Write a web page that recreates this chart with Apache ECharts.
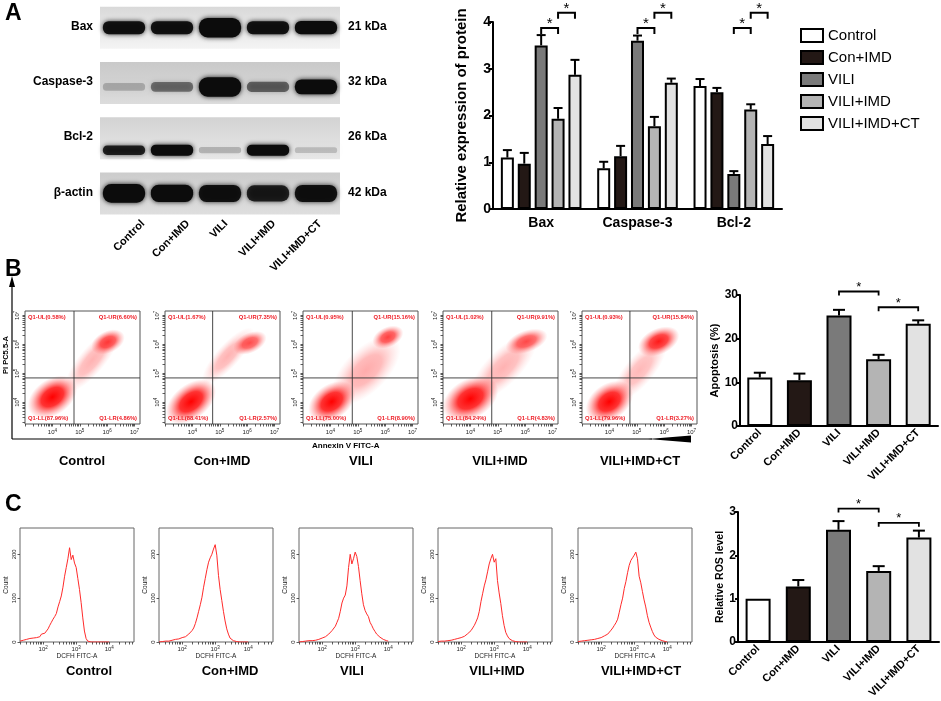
<!DOCTYPE html>
<html><head><meta charset="utf-8">
<script src="https://cdn.jsdelivr.net/npm/echarts@6/dist/echarts.min.js"></script>
<style>html,body{margin:0;padding:0;background:#fff}#c{width:941px;height:701px}</style>
</head><body><div id="c"></div>
<script>
// ---------------- DATA ----------------
const groups = ['Control','Con+IMD','VILI','VILI+IMD','VILI+IMD+CT'];
const proteins = ['Bax','Caspase-3','Bcl-2'];
const blotRows = ['Bax','Caspase-3','Bcl-2','β-actin'];
const blotKDa = ['21 kDa','32 kDa','26 kDa','42 kDa'];
// relative band density per lane (Control..VILI+IMD+CT)
const bandBax   = [1.0, 1.0, 2.0, 1.0, 1.05];
const bandCasp  = [0.22, 0.5, 2.0, 0.55, 1.3];
const bandBcl   = [0.9, 1.2, 0.22, 1.2, 0.18];
const bandActin = [1.2, 1.05, 1.0, 0.9, 1.0];

// Relative expression of protein (Bax, Caspase-3, Bcl-2)
const relControl = [1.10, 0.87, 2.63], errControl = [0.16, 0.14, 0.15];
const relConIMD  = [0.97, 1.13, 2.50], errConIMD  = [0.23, 0.22, 0.09];
const relVILI    = [3.50, 3.60, 0.75], errVILI    = [0.22, 0.11, 0.06];
const relVILIIMD = [1.93, 1.77, 2.13], errVILIIMD = [0.23, 0.20, 0.11];
const relCT      = [2.87, 2.70, 1.39], errCT      = [0.32, 0.09, 0.17];
// brackets: [catFrom, groupFrom, catTo, groupTo, level]
const sigA = [[0,2,0,3,3.87],[0,3,0,4,4.2],[1,2,1,3,3.87],[1,3,1,4,4.2],[2,2,2,3,3.87],[2,3,2,4,4.2]];

// Apoptosis (%)
const apopMean = [11.1, 10.5, 25.3, 15.3, 23.4];
const apopErr  = [1.1, 1.5, 1.3, 1.0, 0.8];
const sigB = [[2,0,3,0,30.8],[3,0,4,0,27.2]];

// Relative ROS level
const rosMean = [1.0, 1.28, 2.59, 1.64, 2.41];
const rosErr  = [0, 0.15, 0.20, 0.11, 0.16];
const sigC = [[2,0,3,0,3.08],[3,0,4,0,2.75]];

// Flow cytometry quadrant percentages
const flowUL = [0.58, 1.67, 0.95, 1.02, 0.93];
const flowUR = [6.60, 7.35, 15.16, 9.91, 15.84];
const flowLL = [87.96, 88.41, 75.00, 84.24, 79.96];
const flowLR = [4.86, 2.57, 8.90, 4.83, 3.27];
const gateX = [4.79, 4.74, 4.80, 4.78, 4.75];   // log10 Annexin V gate
const gateY = [4.84, 4.84, 4.84, 4.84, 4.84];   // log10 PI gate
// event clouds: [log x, log y, spread x, spread y, angle, density]
const cloudsControl = [[4.0,4.18,1.0,0.62,35,1.0],[5.45,5.45,1.45,0.45,50,0.30],[6.03,6.08,0.65,0.38,25,0.75]];
const cloudsConIMD  = [[3.95,4.02,1.05,0.6,38,1.0],[5.3,5.6,1.35,0.4,48,0.30],[6.1,6.05,0.65,0.35,25,0.70]];
const cloudsVILI    = [[4.05,4.02,0.95,0.6,35,1.0],[5.3,5.1,1.6,0.75,45,0.33],[6.1,6.25,0.6,0.35,25,0.75]];
const cloudsVILIIMD = [[4.0,4.12,1.1,0.68,30,1.0],[5.2,5.2,1.6,0.6,45,0.30],[6.05,6.1,0.8,0.38,20,0.70]];
const cloudsCT      = [[4.0,4.02,0.95,0.62,35,1.0],[5.1,5.1,1.4,0.5,50,0.28],[5.8,6.1,0.8,0.45,25,0.90]];

// DCFH histograms: log10 fluorescence bins and counts
const histX = [1.30,1.35,1.40,1.45,1.50,1.55,1.60,1.65,1.70,1.75,1.80,1.85,1.90,1.95,2.00,2.05,2.10,2.15,2.20,2.25,2.30,2.35,2.40,2.45,2.50,2.55,2.60,2.65,2.70,2.75,2.80,2.85,2.90,2.95,3.00,3.05,3.10,3.15,3.20,3.25,3.30,3.35,3.40,3.45,3.50,3.55,3.60,3.65,3.70,3.75,3.80,3.85,3.90,3.95,4.00];
const histControl = [2,3,4,5,6,5,8,7,9,8, 10,9,12,18,15,20,24,30,38,45, 52,58,65,80,92,105,125,150,170,190, 215,188,198,180,170,145,120,90,55,25, 8,2,0,0,0,0,0,0,0,0, 0,0,0,0,0];
const histConIMD  = [0,1,1,2,2,3,2,4,4,5, 6,8,7,9,10,10,12,15,18,22, 26,32,42,55,70,85,102,125,145,165, 182,192,200,212,222,198,152,120,95,70, 48,30,18,9,5,3,2,1,0,0, 0,0,0,0,0];
const histVILI    = [0,1,1,1,2,2,3,3,3,4, 4,5,6,7,9,10,12,15,18,22, 26,30,36,45,54,70,89,100,107,128, 170,200,178,190,205,195,172,140,110,85, 72,64,58,45,38,30,24,18,14,11, 9,6,4,3,2];
const histVILIIMD = [1,1,2,2,2,3,3,4,4,5, 6,7,8,9,10,11,13,16,19,22, 26,32,38,46,55,70,92,110,128,142, 160,178,190,200,182,190,140,112,88,60, 38,22,14,8,5,3,2,1,0,0, 0,0,0,0,0];
const histCT      = [1,1,2,2,3,3,4,4,5,6, 6,7,8,9,10,12,14,16,18,22, 27,32,38,44,52,68,85,100,122,138, 158,175,186,192,198,205,190,150,135,115, 96,80,60,45,34,24,16,11,8,6, 4,3,2,1,0];

// ---------------- STYLE ----------------
const FF = '"Liberation Sans", Arial, Helvetica, sans-serif';
const groupColors = ['#ffffff','#231815','#7a7a7a','#b4b4b4','#e2e2e2'];
const rowBgTop = ['#d9d9d9','#c9c9c9','#d3d3d3','#cccccc'];
const rowBgBot = ['#f4f4f4','#dcdcdc','#e8e8e8','#dedede'];
const bandBase = [13, 13, 10, 17];
const bandOffset = [0, 4, 12, 0];

const relMeans = [relControl, relConIMD, relVILI, relVILIIMD, relCT];
const relErrs = [errControl, errConIMD, errVILI, errVILIIMD, errCT];
const blotBands = [bandBax, bandCasp, bandBcl, bandActin];
const flowClouds = [cloudsControl, cloudsConIMD, cloudsVILI, cloudsVILIIMD, cloudsCT];
const histCounts = [histControl, histConIMD, histVILI, histVILIIMD, histCT];

const grids = [], xAxes = [], yAxes = [], series = [], graphics = [];
function G(left, top, width, height, extra) {
  grids.push(Object.assign({left, top, width, height, outerBoundsMode: 'none', containLabel: false}, extra || {}));
  return grids.length - 1;
}
function logTicks(lo, hi) {
  const t = [];
  for (let d = Math.floor(lo); d <= Math.ceil(hi); d++) {
    for (let k = 1; k < 10; k++) {
      const v = d + Math.log10(k);
      if (v >= lo - 1e-9 && v <= hi + 1e-9) t.push(+v.toFixed(4));
    }
  }
  return t;
}
const supRich = {b: {fontSize: 6, fontFamily: FF, color: '#222', lineHeight: 8}, s: {fontSize: 4.5, fontFamily: FF, color: '#222', verticalAlign: 'top', lineHeight: 4}};
const supFmt = v => '{b|10}{s|' + Math.round(v) + '}';

function errRender(step, n, capHalf, lw) {
  return function (params, api) {
    const cat = api.value(0), gi = api.value(1), m = api.value(2), e = api.value(3);
    if (!e) return null;
    const b = api.coord([cat, m]), t = api.coord([cat, m + e]);
    const x = b[0] + (gi - (n - 1) / 2) * step;
    return {type: 'group', children: [
      {type: 'line', shape: {x1: x, y1: b[1], x2: x, y2: t[1]}, style: {stroke: '#000', lineWidth: lw}},
      {type: 'line', shape: {x1: x - capHalf, y1: t[1], x2: x + capHalf, y2: t[1]}, style: {stroke: '#000', lineWidth: lw}}
    ]};
  };
}
function sigRender(step, n, drop, lw, fs) {
  return function (params, api) {
    const c1 = api.value(0), g1 = api.value(1), c2 = api.value(2), g2 = api.value(3), lv = api.value(4);
    const p1 = api.coord([c1, lv]), p2 = api.coord([c2, lv]);
    const x1 = p1[0] + (g1 - (n - 1) / 2) * step, x2 = p2[0] + (g2 - (n - 1) / 2) * step, y = p1[1];
    return {type: 'group', children: [
      {type: 'polyline', shape: {points: [[x1, y + drop], [x1, y], [x2, y], [x2, y + drop]]}, style: {stroke: '#000', lineWidth: lw, fill: null}},
      {type: 'text', x: (x1 + x2) / 2, y: y - 4, style: {text: '*', fontSize: fs, fontFamily: FF, fill: '#000', align: 'center', verticalAlign: 'middle'}}
    ]};
  };
}
function boldAxisY(min, max, interval, name, nameGap, fs, nfs) {
  return {type: 'value', min, max, interval, name, nameLocation: 'middle', nameGap,
    nameTextStyle: {fontSize: nfs, fontWeight: 'bold', fontFamily: FF, color: '#000'},
    axisLine: {show: true, lineStyle: {color: '#000', width: 2}},
    axisTick: {show: true, length: 3, lineStyle: {color: '#000', width: 2}},
    axisLabel: {color: '#000', fontSize: fs, fontWeight: 'bold', fontFamily: FF, margin: 2},
    splitLine: {show: false}};
}

// ---------- Panel A : western blot ----------
const gBlot = G(100, 0, 240, 221);
xAxes.push({gridIndex: gBlot, type: 'value', min: -0.5, max: 4.5, show: false});
yAxes.push({gridIndex: gBlot, type: 'value', min: -0.5, max: 3.5, inverse: true, show: false});
series.push({type: 'custom', xAxisIndex: gBlot, yAxisIndex: gBlot, silent: true, clip: false,
  data: blotRows.map((n, i) => [0, i]),
  renderItem: (p, api) => {
    const r = api.value(1), a = api.coord([-0.5, r]), b = api.coord([4.5, r]), h = 42;
    return {type: 'rect', shape: {x: a[0], y: a[1] - h / 2, width: b[0] - a[0], height: h},
      style: {fill: {type: 'linear', x: 0, y: 0, x2: 0, y2: 1, colorStops: [{offset: 0, color: rowBgTop[r]}, {offset: 1, color: rowBgBot[r]}]}}};
  }});
series.push({type: 'custom', xAxisIndex: gBlot, yAxisIndex: gBlot, silent: true, clip: false,
  data: blotBands.flatMap((arr, r) => arr.map((I, l) => [l, r, I])),
  renderItem: (p, api) => {
    const l = api.value(0), r = api.value(1), I = api.value(2);
    const c = api.coord([l, r]), w = api.size([0.88, 0])[0];
    const h = bandBase[r] * (0.5 + 0.5 * I), a = Math.min(1, I * 0.95);
    return {type: 'rect', shape: {x: c[0] - w / 2, y: c[1] + bandOffset[r] - h / 2, width: w, height: h, r: h * 0.45},
      style: {fill: 'rgba(12,12,12,' + a + ')', shadowBlur: 5, shadowColor: 'rgba(0,0,0,' + (a * 0.9) + ')'}};
  }});
const rowCY = [27.6, 82.9, 138.1, 193.4];
blotRows.forEach((n, i) => {
  graphics.push({type: 'text', x: 93, y: rowCY[i] - 1, style: {text: n, fontSize: 12, fontWeight: 'bold', fontFamily: FF, fill: '#000', align: 'right', verticalAlign: 'middle'}});
  graphics.push({type: 'text', x: 348, y: rowCY[i] - 1, style: {text: blotKDa[i], fontSize: 12, fontWeight: 'bold', fontFamily: FF, fill: '#000', align: 'left', verticalAlign: 'middle'}});
});
const laneAnchor = [143, 188, 226, 274, 320];
groups.forEach((g, i) => {
  graphics.push({type: 'text', x: laneAnchor[i], y: 222, rotation: Math.PI / 4,
    style: {text: g, fontSize: 11, fontWeight: 'bold', fontFamily: FF, fill: '#000', align: 'right', verticalAlign: 'middle'}});
});

// ---------- Panel A : bar chart ----------
const gA = G(493, 22, 289, 187);
xAxes.push({gridIndex: gA, type: 'category', data: proteins,
  axisLine: {lineStyle: {color: '#000', width: 2}}, axisTick: {show: false},
  axisLabel: {color: '#000', fontSize: 14, fontWeight: 'bold', fontFamily: FF, margin: 7}});
const yA = boldAxisY(0, 4, 1, 'Relative expression of protein', 24, 14, 15);
yA.axisTick.length = 4;
yAxes.push(Object.assign({gridIndex: gA}, yA));
groups.forEach((g, i) => series.push({type: 'bar', name: g, xAxisIndex: gA, yAxisIndex: gA, data: relMeans[i],
  barWidth: 13, barGap: '30%', itemStyle: {color: groupColors[i], borderColor: '#000', borderWidth: 2}}));
const stepA = 13 * 1.3;
series.push({type: 'custom', xAxisIndex: gA, yAxisIndex: gA, clip: false, silent: true, z: 5, encode: {x: 0, y: 2},
  data: groups.flatMap((g, i) => proteins.map((p, j) => [j, i, relMeans[i][j], relErrs[i][j]])),
  renderItem: errRender(stepA, 5, 4.5, 2)});
series.push({type: 'custom', xAxisIndex: gA, yAxisIndex: gA, clip: false, silent: true, z: 5, encode: {x: 0, y: 4},
  data: sigA, renderItem: sigRender(stepA, 5, 6, 2, 15)});

// ---------- Panel B : flow cytometry ----------
const scLeft = [25, 165, 303, 443, 582];
const xTicksB = logTicks(3, 7.2), yTicksB = logTicks(3.25, 7.15);
scLeft.forEach((L, k) => {
  const g = G(L, 311, 115, 113, {show: true, borderColor: '#555', borderWidth: 1, backgroundColor: 'transparent'});
  xAxes.push({gridIndex: g, type: 'value', min: 3, max: 7.2, axisLine: {show: false}, splitLine: {show: false},
    axisTick: {show: true, length: 2.5, customValues: xTicksB, lineStyle: {color: '#333', width: 0.8}},
    axisLabel: {customValues: [4, 5, 6, 7], formatter: supFmt, rich: supRich, margin: 4}});
  yAxes.push({gridIndex: g, type: 'value', min: 3.25, max: 7.15, axisLine: {show: false}, splitLine: {show: false},
    axisTick: {show: true, length: 2.5, customValues: yTicksB, lineStyle: {color: '#333', width: 0.8}},
    axisLabel: {customValues: [4, 5, 6, 7], formatter: supFmt, rich: supRich, rotate: 90, margin: 4}});
  series.push({type: 'custom', xAxisIndex: g, yAxisIndex: g, clip: true, silent: true,
    data: flowClouds[k],
    renderItem: (p, api) => {
      const c = api.coord([api.value(0), api.value(1)]);
      const sz = api.size([api.value(2), api.value(3)]);
      const d = api.value(5);
      return {type: 'circle', shape: {cx: 0, cy: 0, r: 1}, x: c[0], y: c[1], scaleX: sz[0], scaleY: sz[1],
        rotation: api.value(4) * Math.PI / 180,
        style: {fill: {type: 'radial', x: 0.5, y: 0.5, r: 0.5, colorStops: [
          {offset: 0, color: 'rgba(255,0,0,' + d + ')'},
          {offset: 0.45, color: 'rgba(255,15,15,' + (d * 0.85) + ')'},
          {offset: 0.78, color: 'rgba(255,60,60,' + (d * 0.32) + ')'},
          {offset: 1, color: 'rgba(255,90,90,0)'}]}}};
    }});
  series.push({type: 'custom', xAxisIndex: g, yAxisIndex: g, clip: false, silent: true, z: 6, encode: {x: 0, y: 1},
    data: [[gateX[k], gateY[k], flowUL[k], flowUR[k], flowLL[k], flowLR[k]]],
    renderItem: (p, api) => {
      const cs = p.coordSys, c = api.coord([api.value(0), api.value(1)]);
      const ts = (t, x, y, al) => ({type: 'text', x, y, style: {text: t, fontSize: 5.8, fontWeight: 'bold', fontFamily: FF, fill: '#ee1c25', align: al, verticalAlign: 'middle'}});
      const f = v => v.toFixed(2) + '%)';
      return {type: 'group', children: [
        {type: 'line', shape: {x1: c[0], y1: cs.y, x2: c[0], y2: cs.y + cs.height}, style: {stroke: '#333', lineWidth: 0.9}},
        {type: 'line', shape: {x1: cs.x, y1: c[1], x2: cs.x + cs.width, y2: c[1]}, style: {stroke: '#333', lineWidth: 0.9}},
        ts('Q1-UL(' + f(api.value(2)), cs.x + 3, cs.y + 6, 'left'),
        ts('Q1-UR(' + f(api.value(3)), cs.x + cs.width - 3, cs.y + 6, 'right'),
        ts('Q1-LL(' + f(api.value(4)), cs.x + 3, cs.y + cs.height - 6, 'left'),
        ts('Q1-LR(' + f(api.value(5)), cs.x + cs.width - 3, cs.y + cs.height - 6, 'right')
      ]};
    }});
});
const labBx = [82, 222, 361, 500, 640];
groups.forEach((g, i) => graphics.push({type: 'text', x: labBx[i], y: 461, style: {text: g, fontSize: 13, fontWeight: 'bold', fontFamily: FF, fill: '#000', align: 'center', verticalAlign: 'middle'}}));
graphics.push({type: 'line', shape: {x1: 12, y1: 283, x2: 12, y2: 439}, style: {stroke: '#000', lineWidth: 1.2}});
graphics.push({type: 'polygon', shape: {points: [[12, 276], [9, 287], [15, 287]]}, style: {fill: '#000'}});
graphics.push({type: 'line', shape: {x1: 12, y1: 439, x2: 652, y2: 439}, style: {stroke: '#000', lineWidth: 1.2}});
graphics.push({type: 'polygon', shape: {points: [[648, 439], [691, 435.5], [691, 442.5]]}, style: {fill: '#000'}});
graphics.push({type: 'text', x: 6, y: 355, rotation: Math.PI / 2, style: {text: 'PI PC5.5-A', fontSize: 7.5, fontWeight: 'bold', fontFamily: FF, fill: '#000', align: 'center', verticalAlign: 'middle'}});
graphics.push({type: 'text', x: 312, y: 446, style: {text: 'Annexin V FITC-A', fontSize: 8, fontWeight: 'bold', fontFamily: FF, fill: '#000', align: 'left', verticalAlign: 'middle'}});

// ---------- Panel B : apoptosis bars ----------
const gBB = G(740, 295, 198, 131);
xAxes.push({gridIndex: gBB, type: 'category', data: groups,
  axisLine: {lineStyle: {color: '#000', width: 2}}, axisTick: {show: false},
  axisLabel: {color: '#000', fontSize: 11, fontWeight: 'bold', fontFamily: FF, rotate: 45, interval: 0, margin: 5}});
yAxes.push(Object.assign({gridIndex: gBB}, boldAxisY(0, 30, 10, 'Apoptosis (%)', 17, 12, 11)));
series.push({type: 'bar', name: 'apoptosis', xAxisIndex: gBB, yAxisIndex: gBB, barWidth: 25,
  data: apopMean.map((v, i) => ({value: v, itemStyle: {color: groupColors[i]}})),
  itemStyle: {borderColor: '#000', borderWidth: 2}});
series.push({type: 'custom', xAxisIndex: gBB, yAxisIndex: gBB, clip: false, silent: true, z: 5, encode: {x: 0, y: 2},
  data: apopMean.map((v, i) => [i, 0, v, apopErr[i]]), renderItem: errRender(0, 1, 6, 2)});
series.push({type: 'custom', xAxisIndex: gBB, yAxisIndex: gBB, clip: false, silent: true, z: 5, encode: {x: 0, y: 4},
  data: sigB, renderItem: sigRender(0, 1, 4, 1.8, 13)});

// ---------- Panel C : histograms ----------
const hLeft = [20, 159, 299, 438, 578];
const xTicksC = logTicks(1.3, 4.75);
hLeft.forEach((L, k) => {
  const g = G(L, 528, 114, 114, {show: true, borderColor: '#666', borderWidth: 1, backgroundColor: 'transparent'});
  xAxes.push({gridIndex: g, type: 'value', min: 1.3, max: 4.75, axisLine: {show: false}, splitLine: {show: false},
    name: 'DCFH FITC-A', nameLocation: 'middle', nameGap: 11, nameTextStyle: {fontSize: 6.5, fontFamily: FF, color: '#222'},
    axisTick: {show: true, length: 2.5, customValues: xTicksC, lineStyle: {color: '#333', width: 0.8}},
    axisLabel: {customValues: [2, 3, 4], formatter: supFmt, rich: supRich, margin: 3}});
  yAxes.push({gridIndex: g, type: 'value', min: 0, max: 260, axisLine: {show: false}, splitLine: {show: false},
    name: 'Count', nameLocation: 'middle', nameGap: 10, nameTextStyle: {fontSize: 6.5, fontFamily: FF, color: '#222'},
    axisTick: {show: true, length: 2.5, customValues: [0, 100, 200], lineStyle: {color: '#333', width: 0.8}},
    axisLabel: {customValues: [0, 100, 200], rotate: 90, fontSize: 6, fontFamily: FF, color: '#222', margin: 3}});
  series.push({type: 'line', name: 'hist' + k, xAxisIndex: g, yAxisIndex: g, silent: true,
    data: histX.map((x, i) => [x, histCounts[k][i]]), symbol: 'none', showSymbol: false,
    lineStyle: {color: '#ff2a2a', width: 1}, clip: true});
});
const labCx = [89, 230, 352, 497, 641];
groups.forEach((g, i) => graphics.push({type: 'text', x: labCx[i], y: 671, style: {text: g, fontSize: 13, fontWeight: 'bold', fontFamily: FF, fill: '#000', align: 'center', verticalAlign: 'middle'}}));

// ---------- Panel C : ROS bars ----------
const gCC = G(738, 512, 201, 130);
xAxes.push({gridIndex: gCC, type: 'category', data: groups,
  axisLine: {lineStyle: {color: '#000', width: 2}}, axisTick: {show: false},
  axisLabel: {color: '#000', fontSize: 11, fontWeight: 'bold', fontFamily: FF, rotate: 45, interval: 0, margin: 5}});
yAxes.push(Object.assign({gridIndex: gCC}, boldAxisY(0, 3, 1, 'Relative ROS level', 11, 12, 10.5)));
series.push({type: 'bar', name: 'ros', xAxisIndex: gCC, yAxisIndex: gCC, barWidth: 25,
  data: rosMean.map((v, i) => ({value: v, itemStyle: {color: groupColors[i]}})),
  itemStyle: {borderColor: '#000', borderWidth: 2}});
series.push({type: 'custom', xAxisIndex: gCC, yAxisIndex: gCC, clip: false, silent: true, z: 5, encode: {x: 0, y: 2},
  data: rosMean.map((v, i) => [i, 0, v, rosErr[i]]), renderItem: errRender(0, 1, 6, 2)});
series.push({type: 'custom', xAxisIndex: gCC, yAxisIndex: gCC, clip: false, silent: true, z: 5, encode: {x: 0, y: 4},
  data: sigC, renderItem: sigRender(0, 1, 4, 1.8, 13)});

// panel letters
[['A', 14], ['B', 270], ['C', 505]].forEach(([t, y]) => graphics.push({type: 'text', x: 5, y, style: {text: t, fontSize: 23, fontWeight: 'bold', fontFamily: FF, fill: '#000', align: 'left', verticalAlign: 'middle'}}));

const chart = echarts.init(document.getElementById('c'), null, {renderer: 'canvas'});
chart.setOption({
  animation: false,
  backgroundColor: '#fff',
  textStyle: {fontFamily: FF},
  grid: grids, xAxis: xAxes, yAxis: yAxes, series,
  legend: {data: groups, orient: 'vertical', left: 800, top: 28, padding: 0, itemWidth: 22, itemHeight: 13, itemGap: 7,
    icon: 'rect', selectedMode: false, textStyle: {fontSize: 15, fontFamily: FF, color: '#000'},
    itemStyle: {borderColor: '#000', borderWidth: 2}},
  graphic: graphics.map(g => Object.assign({z: 50, silent: true}, g))
});
</script></body></html>
